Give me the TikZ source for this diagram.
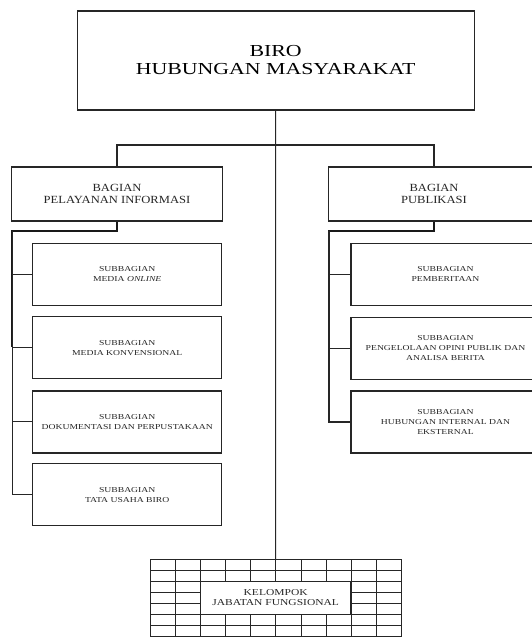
\documentclass[tikz,border=0pt]{standalone}
\usepackage{fontspec}
\setmainfont{Liberation Serif}
% widened serif faces for the three levels of the chart
\newfontfamily\headfont[FakeStretch=1.3]{Liberation Serif}
\newfontfamily\partfont[FakeStretch=1.15]{Liberation Serif}
\newfontfamily\unitfont[FakeStretch=1.27]{Liberation Serif}
\begin{document}
\begin{tikzpicture}[x=0.75pt,y=-0.75pt,
  box/.style={draw=black!85, line width=0.9pt, fill=white, inner sep=0pt,
    align=center, text=black!85},
  headbox/.style={box, text=black, minimum width=297.75pt, minimum height=74.25pt,
    font=\headfont\fontsize{12.6}{13.5}\selectfont},
  partbox/.style={box, minimum width=158pt, minimum height=40.5pt,
    font=\partfont\fontsize{8.2}{9.4}\selectfont},
  unitbox/.style={box, minimum width=141.75pt, minimum height=46.5pt,
    font=\unitfont\fontsize{5.7}{7.3}\selectfont},
  groupbox/.style={box, minimum width=113pt, minimum height=24.75pt,
    font=\unitfont\fontsize{6.8}{7.5}\selectfont},
  link/.style={draw=black!85, line width=0.8pt},
  spine/.style={draw=black!90, line width=1.5pt},
  gridline/.style={draw=black!85, line width=0.7pt}]

\useasboundingbox (0,0) rectangle (532,637);
\fill[white] (0,0) rectangle (532,637);
\clip (0,0) rectangle (532,637);

% head of the bureau
\node[headbox] (biro) at (275.6,60.5) {BIRO\\HUBUNGAN MASYARAKAT};

% the two divisions
\node[partbox] (pel) at (117,194) {BAGIAN\\PELAYANAN INFORMASI};
\node[partbox] (pub) at (434,194) {BAGIAN\\PUBLIKASI};

% sub-units of the information services division
\node[unitbox] (s1) at (127.2,274.2) {SUBBAGIAN\\MEDIA \textit{ONLINE}};
\node[unitbox] (s2) at (127.2,347.8) {SUBBAGIAN\\MEDIA KONVENSIONAL};
\node[unitbox] (s3) at (127.2,421.9) {SUBBAGIAN\\DOKUMENTASI DAN PERPUSTAKAAN};
\node[unitbox] (s4) at (127.2,494.7) {SUBBAGIAN\\TATA USAHA BIRO};

% sub-units of the publication division
\node[unitbox] (p1) at (445.5,274.2) {SUBBAGIAN\\PEMBERITAAN};
\node[unitbox] (p2) at (445.5,348.2) {SUBBAGIAN\\PENGELOLAAN OPINI PUBLIK DAN\\ANALISA BERITA};
\node[unitbox] (p3) at (445.5,422) {SUBBAGIAN\\HUBUNGAN INTERNAL DAN\\EKSTERNAL};

% functional group: a grid with a label panel in the middle
\foreach \i in {0,...,10}
  \draw[gridline] ({150+25.17*\i},559.5) -- ({150+25.17*\i},640);
\foreach \j in {0,...,7}
  \draw[gridline] (150,{559.5+11*\j}) -- (401.7,{559.5+11*\j});
\node[groupbox] (fung) at (275.65,598) {KELOMPOK\\JABATAN FUNGSIONAL};
\coordinate (gridtop) at (275.65,559.5);

% main trunk and the bus to both divisions
\coordinate (bus) at (117,145);
\draw[link] (biro.south) -- (gridtop);
\draw[link] (pel.north) -- (bus) -| (pub.north);

% left spine
\coordinate (lk) at (117,231);
\coordinate (ls) at (12.3,231);
\draw[spine] (pel.south) -- (lk) -- (ls) -- (12.3,346.7);
\draw[link] (ls) |- (s1.west);
\draw[link] (ls) |- (s2.west);
\draw[link] (ls) |- (s3.west);
\draw[link] (ls) |- (s4.west);

% right spine
\coordinate (rk) at (434,231);
\coordinate (rs) at (329,231);
\draw[spine] (pub.south) -- (rk) -- (rs) -- (329,274.2);
\draw[link] (rs) |- (p1.west);
\draw[link] (rs) |- (p2.west);
\draw[link] (rs) |- (p3.west);
\end{tikzpicture}
\end{document}
